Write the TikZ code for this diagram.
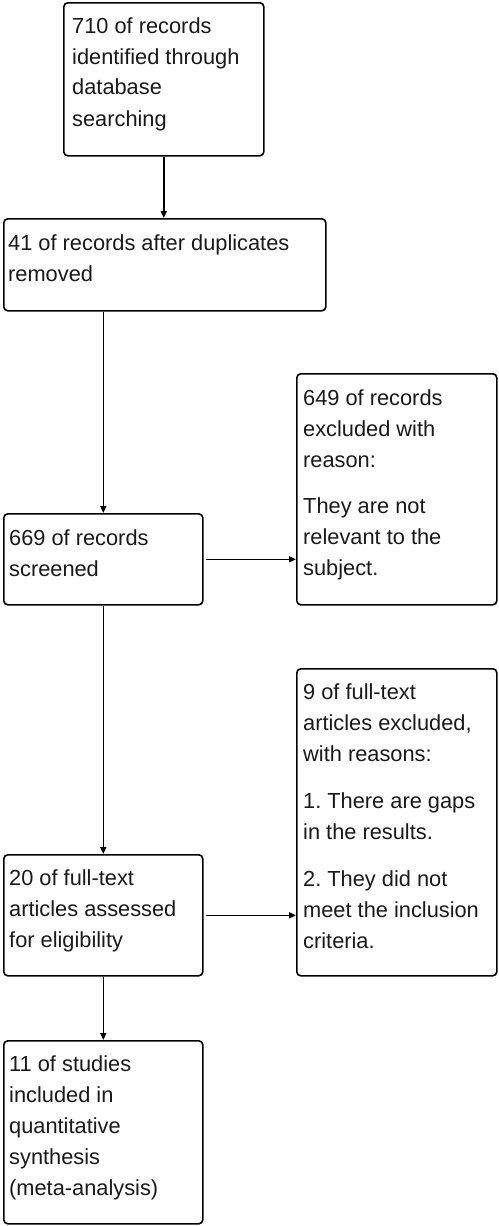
\documentclass[tikz,border=0pt]{standalone}
\usepackage{fontspec}
\setmainfont{Liberation Sans}
\usetikzlibrary{arrows.meta}
\frenchspacing
\newcommand{\boxtext}[2]{\parbox[t]{#1}{\fontsize{21.8}{31}\selectfont\raggedright #2}}
\tikzset{
  box/.style={draw=black, line width=1.6pt, rounded corners=4pt, inner sep=0pt, anchor=north west},
  txt/.style={inner sep=0pt, anchor=base west, text=black!90},
  arr/.style={line width=1.6pt, -{Triangle[length=7pt,width=6pt]}}
}
\begin{document}
\begin{tikzpicture}[x=1pt,y=-1pt]
\useasboundingbox (0,0) rectangle (498,1226);
% boxes
\node[box, minimum width=200pt, minimum height=153pt] (b1) at (63,2) {};
\node[box, minimum width=322pt, minimum height=92pt] (b2) at (3,218) {};
\node[box, minimum width=199pt, minimum height=91pt] (b3) at (3,513) {};
\node[box, minimum width=200pt, minimum height=231pt] (b4) at (296,373) {};
\node[box, minimum width=199pt, minimum height=121pt] (b5) at (3,854) {};
\node[box, minimum width=200pt, minimum height=307pt] (b6) at (296,668) {};
\node[box, minimum width=199pt, minimum height=183pt] (b7) at (3,1040) {};
% texts
\node[txt] (t1) at (72,33) {\boxtext{190pt}{710 of records\\identified through\\database\\searching}};
\node[txt] (t2) at (8,250) {\boxtext{315pt}{41 of records after duplicates\\removed}};
\node[txt] (t3) at (9,545) {\boxtext{190pt}{669 of records\\screened}};
\node[txt] (t4) at (303,405) {\boxtext{190pt}{649 of records\\excluded with\\reason:\\[15pt]They are not\\relevant to the\\subject.}};
\node[txt] (t5) at (9,885) {\boxtext{190pt}{20 of full-text\\articles assessed\\for eligibility}};
\node[txt] (t6) at (303,699) {\boxtext{190pt}{9 of full-text\\articles excluded,\\with reasons:\\[16pt]1. There are gaps\\in the results.\\[16pt]2. They did not\\meet the inclusion\\criteria.}};
\node[txt] (t7) at (9,1071) {\boxtext{190pt}{11 of studies\\included in\\quantitative\\synthesis\\(meta-analysis)}};
% connectors
\draw[arr] (b1.south) -- (b2.north -| b1.south);
\draw[arr] (b2.south -| b3.north) -- (b3.north);
\draw[arr, shorten <=2pt] (b3.east) -- (b4.west |- b3.east);
\draw[arr] (b3.south) -- (b5.north);
\draw[arr, shorten <=2pt] (b5.east) -- (b6.west |- b5.east);
\draw[arr] (b5.south) -- (b7.north);
\end{tikzpicture}
\end{document}
